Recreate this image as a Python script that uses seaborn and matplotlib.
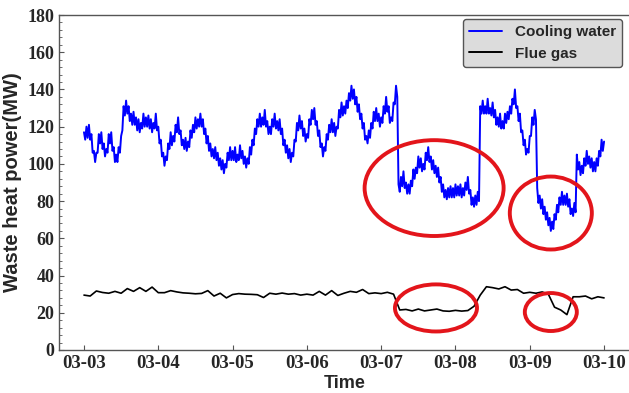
import numpy as np
import pandas as pd
import matplotlib
matplotlib.use("Agg")
import matplotlib.pyplot as plt
import matplotlib.dates as mdates
from matplotlib.patches import Ellipse
from matplotlib.ticker import MultipleLocator
import seaborn as sns

# Waste heat power (MW), cooling water, sampled every 24 minutes from 03-03 00:00
cooling_water = [
    117, 113, 120, 114, 121, 113, 116, 106, 107, 101,
    106, 106, 116, 111, 117, 108, 111, 104, 108, 106,
    116, 111, 117, 107, 109, 101, 105, 101, 109, 106,
    115, 118, 131, 126, 134, 127, 131, 123, 127, 121,
    128, 121, 125, 118, 124, 117, 122, 119, 127, 120,
    125, 120, 126, 119, 124, 117, 122, 119, 127, 118,
    120, 111, 113, 104, 106, 99, 104, 102, 111, 108,
    117, 110, 115, 112, 121, 117, 125, 116, 118, 110,
    113, 108, 114, 107, 112, 109, 118, 114, 121, 117,
    125, 119, 124, 120, 127, 120, 124, 116, 119, 111,
    115, 107, 111, 104, 108, 103, 109, 102, 106, 99,
    103, 97, 102, 95, 100, 98, 106, 102, 109, 102,
    107, 102, 109, 101, 105, 102, 110, 103, 107, 100,
    104, 98, 103, 100, 109, 105, 113, 110, 119, 116,
    124, 120, 127, 120, 125, 121, 129, 120, 123, 116,
    120, 116, 124, 120, 127, 119, 123, 118, 124, 116,
    119, 110, 113, 106, 110, 103, 108, 101, 106, 104,
    113, 112, 122, 118, 126, 119, 123, 115, 119, 112,
    116, 114, 124, 121, 129, 124, 130, 121, 123, 115,
    118, 109, 111, 104, 109, 107, 116, 113, 121, 117,
    124, 117, 122, 115, 120, 119, 129, 125, 133, 126,
    131, 127, 134, 130, 138, 134, 142, 135, 140, 132,
    136, 128, 132, 124, 127, 119, 122, 113, 115, 111,
    118, 114, 122, 119, 128, 123, 130, 123, 127, 120,
    125, 122, 131, 127, 136, 128, 131, 122, 125, 123,
    133, 132, 142, 136, 89, 85, 93, 88, 96, 87,
    90, 84, 89, 84, 91, 88, 97, 92, 98, 95,
    104, 98, 103, 96, 100, 97, 106, 102, 109, 101,
    104, 97, 102, 95, 99, 93, 98, 90, 93, 85,
    89, 82, 86, 81, 87, 82, 88, 82, 87, 82,
    89, 83, 88, 83, 89, 82, 87, 83, 90, 86,
    93, 84, 86, 78, 82, 77, 83, 78, 85, 80,
    131, 127, 134, 127, 131, 127, 135, 127, 130, 126,
    133, 125, 129, 121, 125, 120, 127, 119, 123, 119,
    127, 122, 128, 124, 131, 127, 135, 132, 140, 130,
    131, 123, 127, 117, 118, 110, 113, 105, 108, 106,
    115, 115, 125, 121, 129, 124, 87, 79, 83, 76,
    81, 73, 77, 70, 74, 67, 71, 64, 69, 65,
    73, 70, 78, 74, 82, 78, 85, 78, 83, 78,
    84, 77, 81, 73, 76, 72, 79, 74, 105, 97,
    101, 94, 99, 95, 103, 99, 107, 100, 104, 98,
    103, 96, 101, 96, 103, 99, 107, 104, 113, 107,
    112,
]

# Waste heat power (MW), flue gas, sampled every 2 hours from 03-03 00:00
flue_gas = [
    29.5, 29.0, 31.7, 30.9, 30.5, 31.5, 30.5, 33.0, 31.5, 33.5,
    31.5, 33.8, 30.8, 30.8, 31.9, 31.2, 30.7, 30.5, 30.2, 30.4,
    31.9, 29.0, 30.5, 28.0, 29.8, 30.3, 30.0, 29.9, 29.7, 28.2,
    30.5, 30.0, 30.6, 30.0, 30.3, 29.5, 30.0, 29.5, 31.5, 29.5,
    31.9, 29.3, 30.5, 31.5, 31.0, 32.5, 30.3, 30.7, 30.3, 31.0,
    30.0, 21.5, 21.8, 21.0, 22.0, 21.0, 21.5, 22.0, 21.0, 20.8,
    21.3, 20.9, 21.2, 23.5, 29.5, 34.0, 33.5, 32.8, 34.0, 32.2,
    32.5, 30.5, 31.0, 30.5, 31.2, 30.0, 23.0, 21.5, 19.0, 28.6,
    28.6, 29.0, 27.5, 28.6, 28.0,
]

y_ticks = [0, 20, 40, 60, 80, 100, 120, 140, 160, 180]
day_ticks = ["2019-03-03", "2019-03-04", "2019-03-05", "2019-03-06",
             "2019-03-07", "2019-03-08", "2019-03-09", "2019-03-10"]

t_water = pd.date_range("2019-03-03", periods=len(cooling_water), freq="24min")
t_gas = pd.date_range("2019-03-03", periods=len(flue_gas), freq="2h")
df_water = pd.DataFrame({"Time": t_water, "Power": cooling_water})
df_gas = pd.DataFrame({"Time": t_gas, "Power": flue_gas})

sns.set_style("ticks")
plt.rcParams["font.family"] = ["Liberation Sans", "DejaVu Sans"]

fig = plt.figure(figsize=(6.29, 3.93), dpi=100)
ax = fig.add_axes([59 / 629, 1 - 350 / 393, 572 / 629, 335 / 393])

sns.lineplot(data=df_water, x="Time", y="Power", ax=ax, color="#0000ff",
             linewidth=1.4, label="Cooling water")
sns.lineplot(data=df_gas, x="Time", y="Power", ax=ax, color="black",
             linewidth=1.2, label="Flue gas")

# highlight the low-output periods
red = "#e3151b"
origin = pd.Timestamp("2019-03-03")
def hours(h):
    return mdates.date2num(origin + pd.Timedelta(hours=h))

highlights = [
    (113.1, 87.0, 44.9, 51.5),   # centre (h), centre (MW), width (h), height (MW)
    (150.8, 73.6, 26.5, 39.2),
    (113.7, 22.6, 26.5, 25.3),
    (150.8, 20.4, 16.8, 20.4),
]
for hc, yc, wh, hh in highlights:
    xc = hours(hc)
    w = hours(hc + wh) - xc
    ax.add_patch(Ellipse((xc, yc), w, hh, fill=False, edgecolor=red,
                         linewidth=2.8, zorder=5))

ax.set_ylim(0, 180)
ax.set_xlim(hours(-8.07), hours(168 + 8.7))
ax.set_yticks(y_ticks)
ax.yaxis.set_minor_locator(MultipleLocator(4))
ax.set_xticks([mdates.date2num(pd.Timestamp(d)) for d in day_ticks])
ax.xaxis.set_major_formatter(mdates.DateFormatter("%m-%d"))

ax.tick_params(axis="both", which="both", direction="in", color="#555555")
ax.tick_params(axis="both", which="major", length=3.5, width=0.8)
ax.tick_params(axis="y", which="minor", length=2, width=0.6)
for lab in ax.get_xticklabels():
    lab.set_fontfamily("Liberation Serif")
    lab.set_fontweight("bold")
    lab.set_fontsize(13.5)
for lab in ax.get_yticklabels():
    lab.set_fontfamily("Liberation Serif")
    lab.set_fontweight("bold")
    lab.set_fontsize(13)

for side in ["left", "top", "bottom"]:
    ax.spines[side].set_visible(True)
    ax.spines[side].set_color("#555555")
    ax.spines[side].set_linewidth(1.0)
ax.spines["right"].set_visible(False)

ax.set_xlabel("Time", fontsize=13, fontweight="bold", labelpad=2)
ax.set_ylabel("Waste heat power(MW)", fontsize=14.5, fontweight="bold", labelpad=4)

leg = ax.legend(loc="upper right", bbox_to_anchor=(0.984, 0.988), borderaxespad=0,
                frameon=True, fancybox=True, framealpha=1, handlelength=2.2,
                prop={"family": "Liberation Sans", "weight": "bold", "size": 11})
leg.get_frame().set_facecolor("#dcdcdc")
leg.get_frame().set_edgecolor("#555555")
for handle in leg.get_lines():
    handle.set_linewidth(1.4)

fig.savefig("out.png", dpi=100)
